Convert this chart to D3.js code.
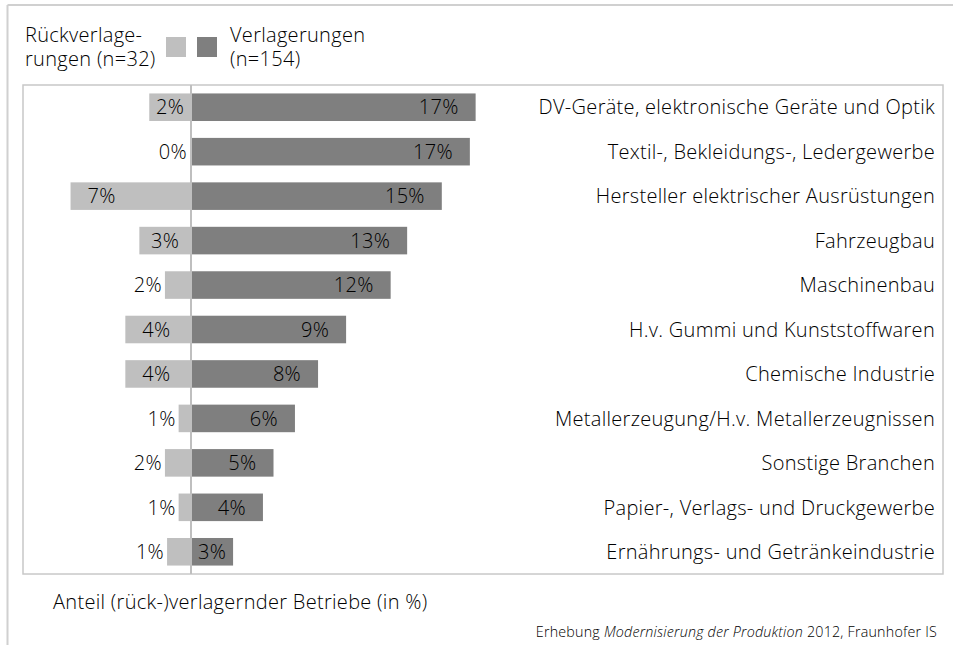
<!DOCTYPE html>
<html>
<head>
<meta charset="utf-8">
<script src="https://cdn.jsdelivr.net/npm/d3@7"></script>
<style>
  body { margin: 0; background: #fff; }
  svg text { font-family: "Open Sans", sans-serif; font-weight: 300; fill: #000; letter-spacing: 0.3px; }
</style>
</head>
<body>
<div id="chart"></div>
<script>
const categories = [
  "DV-Geräte, elektronische Geräte und Optik",
  "Textil-, Bekleidungs-, Ledergewerbe",
  "Hersteller elektrischer Ausrüstungen",
  "Fahrzeugbau",
  "Maschinenbau",
  "H.v. Gummi und Kunststoffwaren",
  "Chemische Industrie",
  "Metallerzeugung/H.v. Metallerzeugnissen",
  "Sonstige Branchen",
  "Papier-, Verlags- und Druckgewerbe",
  "Ernährungs- und Getränkeindustrie"
];
// Rückverlagerungen (n=32), Anteil in %
const rueckValues = [2.53, 0.06, 7.3, 3.13, 1.58, 3.98, 3.98, 0.75, 1.58, 0.75, 1.45];
const rueckLabels = ["2%", "0%", "7%", "3%", "2%", "4%", "4%", "1%", "2%", "1%", "1%"];
// Verlagerungen (n=154), Anteil in %
const verlValues = [17.25, 16.9, 15.2, 13.1, 12.1, 9.4, 7.7, 6.3, 5.0, 4.36, 2.55];
const verlLabels = ["17%", "17%", "15%", "13%", "12%", "9%", "8%", "6%", "5%", "4%", "3%"];

const width = 953;
const height = 645;
const plot = { left: 23, top: 85, right: 943, bottom: 574 };
const lightGrey = "#bfbfbf";
const darkGrey = "#7f7f7f";
const frameColor = "#c8c8c8";
const fs = 20;

const svg = d3
  .select("#chart")
  .append("svg")
  .attr("width", width)
  .attr("height", height);

const x = d3.scaleLinear().domain([-10, 20]).range([26, 521]);
const y = d3
  .scaleBand()
  .domain(categories)
  .range([plot.top, plot.bottom])
  .paddingInner(0.38)
  .paddingOuter(0.19);

// outer frame
svg.append("line").attr("x1", 7.5).attr("x2", 7.5).attr("y1", 5).attr("y2", height)
  .attr("stroke", "#d0d0d0").attr("stroke-width", 2);
svg.append("line").attr("x1", 7.5).attr("x2", width).attr("y1", 5).attr("y2", 5)
  .attr("stroke", "#d0d0d0").attr("stroke-width", 2);

// plot frame
svg.append("rect")
  .attr("x", plot.left).attr("y", plot.top)
  .attr("width", plot.right - plot.left).attr("height", plot.bottom - plot.top)
  .attr("fill", "none").attr("stroke", frameColor).attr("stroke-width", 1.5);

const rows = categories.map((c, i) => ({
  cat: c, rv: rueckValues[i], rl: rueckLabels[i], vv: verlValues[i], vl: verlLabels[i]
}));

// bars
svg.selectAll(".rueck").data(rows).enter().append("rect")
  .attr("class", "rueck")
  .attr("x", d => x(-d.rv))
  .attr("y", d => y(d.cat))
  .attr("width", d => x(0) - 1 - x(-d.rv))
  .attr("height", y.bandwidth())
  .attr("fill", lightGrey);

svg.selectAll(".verl").data(rows).enter().append("rect")
  .attr("class", "verl")
  .attr("x", x(0) + 1)
  .attr("y", d => y(d.cat))
  .attr("width", d => x(d.vv) - x(0) - 1)
  .attr("height", y.bandwidth())
  .attr("fill", darkGrey);

// zero line
svg.append("line")
  .attr("x1", x(0)).attr("x2", x(0))
  .attr("y1", plot.top).attr("y2", plot.bottom)
  .attr("stroke", lightGrey).attr("stroke-width", 2);

// value labels
svg.selectAll(".vl").data(rows).enter().append("text")
  .attr("class", "vl")
  .attr("font-size", fs)
  .attr("y", d => y(d.cat) + y.bandwidth() / 2)
  .attr("dy", "0.36em")
  .attr("text-anchor", "end")
  .text(d => d.vl)
  .attr("x", function (d) {
    const w = this.getComputedTextLength();
    const barW = x(d.vv) - x(0);
    const inset = Math.min(17, (barW - w) / 2);
    return x(d.vv) - inset;
  });

svg.selectAll(".rl").data(rows).enter().append("text")
  .attr("class", "rl")
  .attr("font-size", fs)
  .attr("y", d => y(d.cat) + y.bandwidth() / 2)
  .attr("dy", "0.36em")
  .attr("text-anchor", "start")
  .text(d => d.rl)
  .attr("x", function (d) {
    const w = this.getComputedTextLength();
    const barW = x(0) - x(-d.rv);
    if (barW > w + 4) return x(-d.rv) + Math.min(17, (barW - w) / 2);
    return x(-d.rv) - 3 - w;
  });

// category labels
svg.selectAll(".cat").data(categories).enter().append("text")
  .attr("class", "cat")
  .attr("font-size", fs)
  .attr("x", 935)
  .attr("y", d => y(d) + y.bandwidth() / 2)
  .attr("dy", "0.36em")
  .attr("text-anchor", "end")
  .text(d => d);

// legend
const legend = svg.append("g").attr("font-size", fs);
legend.append("text").attr("x", 25).attr("y", 42).text("Rückverlage-");
legend.append("text").attr("x", 25).attr("y", 66).text("rungen (n=32)");
legend.append("rect").attr("x", 166).attr("y", 37).attr("width", 20).attr("height", 20).attr("fill", lightGrey);
legend.append("rect").attr("x", 197).attr("y", 37).attr("width", 20).attr("height", 20).attr("fill", darkGrey);
legend.append("text").attr("x", 230).attr("y", 42).text("Verlagerungen");
legend.append("text").attr("x", 230).attr("y", 66).text("(n=154)");

// axis title
svg.append("text").attr("font-size", fs).attr("x", 53).attr("y", 609)
  .text("Anteil (rück-)verlagernder Betriebe (in %)");

// source
const src = svg.append("text").attr("font-size", 14.3).attr("x", 937).attr("y", 637)
  .attr("text-anchor", "end").style("letter-spacing", "0.2px");
src.append("tspan").text("Erhebung ");
src.append("tspan").attr("font-style", "italic").text("Modernisierung der Produktion");
src.append("tspan").text(" 2012, Fraunhofer IS");
</script>
</body>
</html>
